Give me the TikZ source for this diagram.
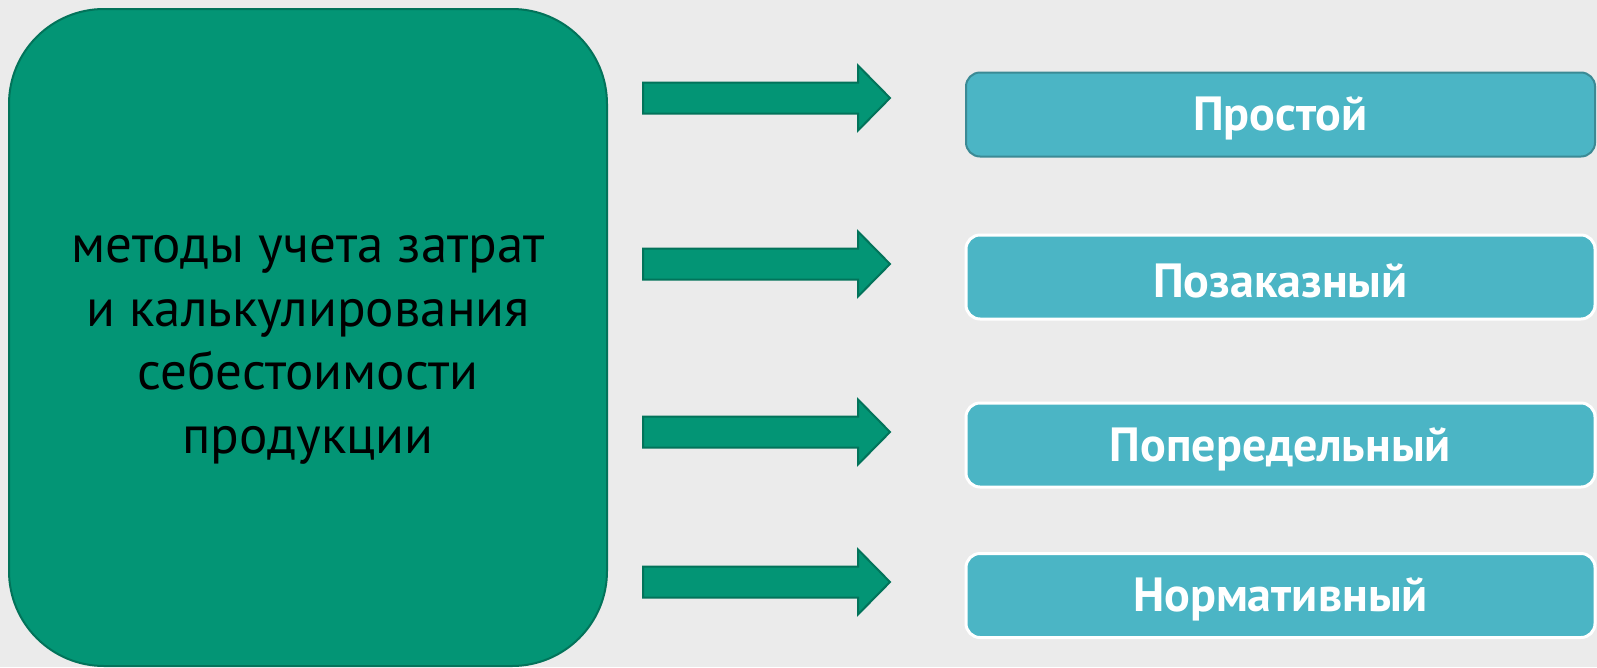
\documentclass[tikz,border=0pt]{standalone}
\usepackage{fontspec}
\setmainfont{PT Sans}
\usetikzlibrary{calc}
\begin{document}
\begin{tikzpicture}[x=1pt,y=-1pt,
  main/.style={draw=mainedge,line width=2pt,fill=mainfill,rounded corners=95pt,
    minimum width=598pt,minimum height=657pt,inner sep=0pt},
  maintext/.style={align=center,inner sep=0pt,
    font=\fontsize{53}{63.5}\selectfont,text=black},
  item/.style={fill=itemfill,line width=3pt,rounded corners=14pt,
    minimum width=629pt,minimum height=84pt,inner sep=0pt},
  itemtext/.style={inner sep=0pt,text=white,font=\fontsize{48}{50}\selectfont\bfseries},
  blockarrow/.style={draw=mainedge,line width=2pt,fill=mainfill,line join=miter}]
\definecolor{bg}{HTML}{EBEBEB}
\definecolor{mainfill}{HTML}{039575}
\definecolor{mainedge}{HTML}{02735A}
\definecolor{itemfill}{HTML}{4BB5C5}
\definecolor{itemedge}{HTML}{3B8A95}
\fill[bg] (0,0) rectangle (1597,667);
\useasboundingbox (0,0) rectangle (1597,667);
\node[main] (m) at (308,337.5) {};
\node[maintext] (mt) at ($(m.center)+(0,12.5)$) {методы учета затрат\\и калькулирования\\себестоимости\\продукции};
\node[item,draw=itemedge,line width=2pt] (a) at (1280.5,114.5) {};
\node[item,draw=white] (b) at (1280.5,277) {};
\node[item,draw=white] (c) at (1280.5,445) {};
\node[item,draw=white] (d) at (1280.5,595.5) {};
\node[itemtext] (at) at ($(a.center)+(0,4)$) {Простой};
\node[itemtext] (bt) at ($(b.center)+(0,4)$) {Позаказный};
\node[itemtext] (ct) at ($(c.center)+(0,4)$) {Попередельный};
\node[itemtext] (dt) at ($(d.center)+(0,4)$) {Нормативный};
\foreach \y/\n in {98/1,264/2,432/3,582/4}{
  \coordinate (s\n) at (643,\y);
  \draw[blockarrow] ($(s\n)+(0,-15.5)$) -- ++(215,0) -- ++(0,-17) -- ($(s\n)+(247,0)$)
    -- ($(s\n)+(215,32.5)$) -- ++(0,-17) -- ($(s\n)+(0,15.5)$) -- cycle;
}
\end{tikzpicture}
\end{document}
